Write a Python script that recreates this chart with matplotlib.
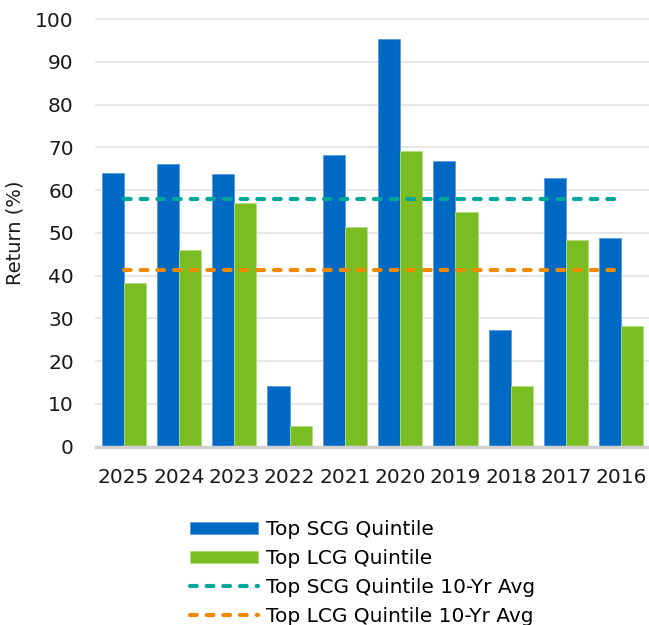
import numpy as np
import matplotlib.pyplot as plt

years = ['2025', '2024', '2023', '2022', '2021', '2020', '2019', '2018', '2017', '2016']
scg = [63.9, 66.2, 63.7, 14.2, 68.2, 95.3, 66.9, 27.4, 62.8, 48.9]
lcg = [38.3, 46.0, 57.0, 4.9, 51.3, 69.1, 54.8, 14.3, 48.3, 28.3]
scg_avg = 57.8
lcg_avg = 41.2

blue = '#0069c4'
green = '#7abd22'
teal = '#00a69c'
orange = '#ef8a00'

plt.rcParams['font.family'] = ['DejaVu Sans']

fig = plt.figure(figsize=(6.49, 6.25), dpi=100)
ax = fig.add_axes([96/649, 1 - 446.7/625, 553/649, (446.7 - 19)/625])

x = np.arange(len(years))
w = 0.4
h1 = ax.bar(x - w/2, scg, w, color=blue, edgecolor='#5b9be0', lw=0.6, zorder=2)
h2 = ax.bar(x + w/2, lcg, w, color=green, edgecolor='#b5dc80', lw=0.6, zorder=2)
h3, = ax.plot([x[0], x[-1]], [scg_avg, scg_avg], color=teal, lw=3, ls=(0, (1.6, 2.4)),
              dash_capstyle='round', zorder=3)
h4, = ax.plot([x[0], x[-1]], [lcg_avg, lcg_avg], color=orange, lw=3, ls=(0, (1.6, 2.4)),
              dash_capstyle='round', zorder=3)

ax.set_xlim(-0.5, 9.5)
ax.set_ylim(0, 100)
ax.set_yticks(range(0, 101, 10))
ax.set_xticks(x)
ax.set_xticklabels(years)
ax.grid(axis='y', color='#e4e4e4', lw=1.3, zorder=0)
ax.tick_params(length=0, labelsize=14.5, colors='#1a1a1a')
ax.tick_params(axis='x', pad=15)
ax.tick_params(axis='y', pad=16)
for s in ['top', 'right', 'left']:
    ax.spines[s].set_visible(False)
ax.spines['bottom'].set_color('#d0d0d0')
ax.spines['bottom'].set_linewidth(2.5)
ax.set_ylabel('Return (%)', fontsize=14, color='#1a1a1a', labelpad=8)
for t in ax.get_ygridlines():
    t.set_clip_on(False)

fig.legend([h1, h2, h3, h4],
           ['Top SCG Quintile', 'Top LCG Quintile',
            'Top SCG Quintile 10-Yr Avg', 'Top LCG Quintile 10-Yr Avg'],
           loc='upper left', bbox_to_anchor=(190/649, 1 - 520/625), frameon=False,
           fontsize=14.5, handlelength=3.4, handleheight=0.6, handletextpad=0.35,
           labelspacing=0.5, borderaxespad=0, borderpad=0)

fig.savefig('out.png', dpi=100)
